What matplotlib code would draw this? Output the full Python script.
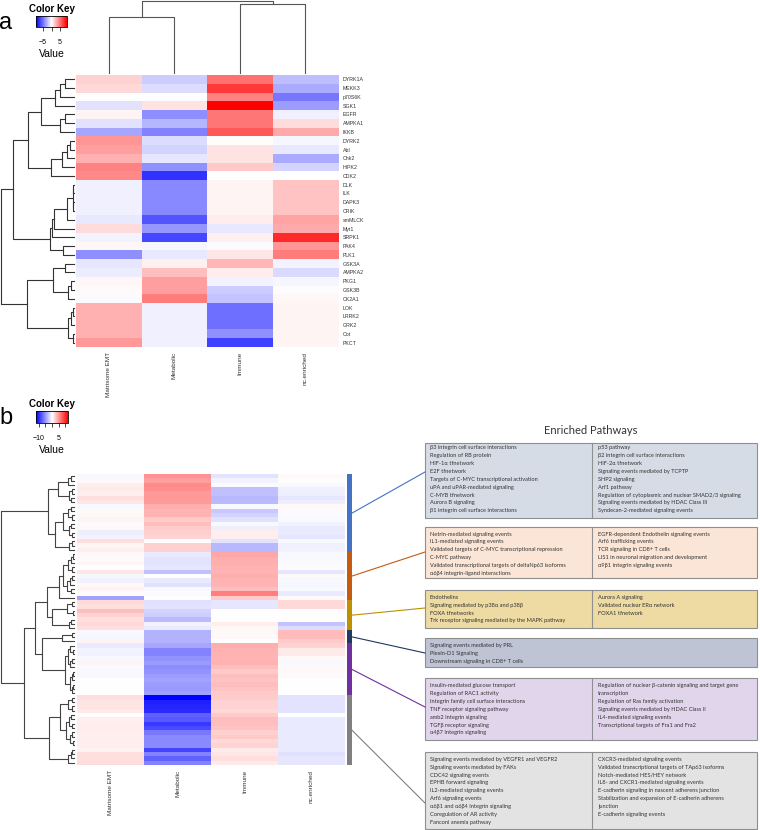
import numpy as np
import matplotlib
matplotlib.use("Agg")
import matplotlib.pyplot as plt
from matplotlib.patches import Rectangle
from matplotlib.colors import ListedColormap, Normalize
from matplotlib.cm import ScalarMappable

plt.rcParams['font.family'] = ['Liberation Sans', 'DejaVu Sans']

# === Panel a: kinases x subtype ===
columns = ["Matrisome EMT", "Metabolic", "Immune", "nc.enriched"]
kinases = ["DYRK1A", "MEKK3", "p70S6K", "SGK1", "EGFR", "AMPKA1", "IKKB",
           "DYRK2", "Abl", "Chk2", "HIPK2", "CDK2", "DLK", "ILK", "DAPK3",
           "CRIK", "smMLCK", "Myt1", "SRPK1", "PAK4", "PLK1", "GSK3A",
           "AMPKA2", "PKG1", "GSK3B", "CK2A1", "LOK", "LRRK2", "GRK2", "Cot", "PKCT"]
matrisome_a = [1.6, 1.4, 0, -1, 0.4, -1, -3.1, 3.7, 3.4, 2.8, 4.4, 4.2, -0.5, -0.5, -0.5,
               -0.5, -0.8, 1.2, -0.4, 0.3, -4, -0.9, -0.7, 0.3, 0.2, -0.2, 2.8, 2.8, 2.8, 2.8, 3.6]
metabolic_a = [-1.8, -1.2, 0, 1, -4, -2.6, -4.4, -1.2, -1.5, -0.9, -3.9, -7.2, -4.2, -4.2, -4.2,
               -4.2, -6, -3.7, -6.5, -0.3, -0.8, 0.5, 2.3, 3.4, 3.4, 4.6, -0.5, -0.5, -0.5, -0.5, -0.5]
immune_a = [5, 7, 4.4, 9, 4.8, 4.8, 5.9, 0.1, 1, 1, 1.9, 0, 0.4, 0.4, 0.4,
            0.4, 0.7, -0.8, 0.5, -0.2, 0.9, 2.6, 0.7, -0.4, -1.8, -2.1, -5.1, -5.1, -5.1, -3.9, -6.7]
nc_a = [-2.3, -3, -4.8, -3.5, -0.5, 1.2, 3, -0.3, -0.8, -3, -1.5, 0, 2.1, 2.1, 2.1,
        2.1, 3.2, 3, 7.5, 3.7, 4.6, -0.4, -1.3, -0.3, -0.1, 0.3, 0.4, 0.4, 0.4, 0.4, 0.4]

# dendrogramas: (izq, der, altura en px)
a_top = (((((0, 1, 9), 2, 14), 3, 19), ((4, 5, 9), 6, 14), 33),
         ((((7, 8, 4), 9, 7), 10, 12), 11, 23), 46)
a_mid = ((((((12, 13, 1), (14, 15, 1), 1.5), 16, 7), 17, 20), 18, 22), (19, 20, 11), 24)
a_low = (((21, 22, 9), ((23, 24, 3), 25, 6), 21),
         (((26, 27, 1), 28, 3), (29, 30, 1.5), 6), 47)
tree_a_rows = ((a_top, a_mid, 61), a_low, 73)
tree_a_cols = ((0, 1, 56), (2, 3, 69), 72)

# === Panel b: pathways x subtype ===
matrisome_b = [-0.3, 0.3, 0.8, 1, 0.8, 1.5, 1.2, -0.3, 0.2, 0.3, 0.5, -0.2, 0.4, -0.8, -0.5, 1.5, 0.5, 0.8,
               0.3, 0.2, 0.4, 0, 1.2, -0.4, -0.6, 0.4, 0.6, 0.2, -4.5,
               1.8, 1.5, 3, 2, 1.5, 1.8, 1.5,
               -0.3, -0.4, 0.5,
               -1, -0.5, -0.6, -0.3, 0.5, -0.2, -0.3, -0.3, 0, 0, 0, 0,
               1.5, 1.3, 1.3, 1, 0, 0.8, 0.9, 0.9, 0.8, 0.8, 0.9, 0.8, 0.6, 1.5, 1.5, 1.6]
metabolic_b = [5, 4.5, 5.5, 5.3, 4.8, 4.8, 4.7, 3.8, 3.5, 3.5, 2.5, 3, 2.5, 2.3, 2, 0, 2.2, 2.2,
               -1, -1.3, -1.3, -1.2, -3, 0, -1, -1.5, -0.3, -0.2, 0,
               -1.5, -1.3, -2, -2.3, -3.2, -0.5, -1,
               -3.6, -3.6, -3.6,
               -4.2, -5.8, -5.8, -5, -4.7, -5.4, -5, -4.6, -4.4, -4.6, -4.8, -4.5,
               -12, -10.5, -10.3, -10, -7.5, -7.8, -9.3, -8.5, -6.3, -5.5, -5.5, -5.5, -8.8, -5.8, -7.5, -5.8]
immune_b = [-1.3, -0.5, -0.2, -3, -3, -3.3, -3.2, -0.3, -2.6, -2, -1.5, -0.3, -0.8, 0.8, 0.8, -1.3, -3.3, -3.3,
            4.2, 3.8, 3.8, 3.6, 3.5, 3.8, 3.5, 3.5, 3, 6, 2.5,
            -1.2, -1.2, 0, 0, 0, 0.8, 0.4,
            0.3, 0.3, 0,
            3.8, 3.6, 3.6, 3.5, 3.6, 3, 2.5, 3, 2.8, 3, 2.8, 2.5,
            2.5, 2, 2, 1.8, 2.5, 3, 3, 2.8, 2.2, 2.5, 1.8, 2, 1, 1.2, 1.5, 1]
nc_b = [0.3, 0.1, -0.3, -0.7, -0.8, -1.2, -0.8, 0.3, -0.2, -0.2, -0.3, -0.6, -1, -1, -1.2, -0.3, -0.7, -0.6,
        -0.3, -0.3, -0.2, 0.2, -1.2, 0.3, -0.3, -0.4, -0.3, -1, 0.2,
        1.8, 1.8, 0, 0, 0, -2.8, -1.6,
        3.2, 3.2, 2.5,
        2, 1, 1, 0.3, -0.3, 0.3, 0.3, 0.2, 0, 0, 0, 0,
        -1.3, -1.3, -1.3, -1.3, 0, -1, -1, -1, -1, -1, -1, -1, -1, -1.5, -1.2, -1.2]

section_sizes = [18, 11, 7, 3, 12, 16]
section_colors = ["#4472c4", "#c55a11", "#bf9000", "#1f3864", "#7030a0", "#808080"]
box_colors = ["#d6dce5", "#fbe5d6", "#eddba3", "#bec4d4", "#e1d5ec", "#e3e3e3"]

blue = ((((0, 1, 3), 2, 6), ((3, 4, 2), (5, 6, 3), 5), 16),
        ((((7, 8, 3), (9, 10, 2), 6), ((11, 12, 3), (13, 14, 2), 5), 11), ((15, 16, 2), 17, 5), 19), 26)
orange = (((((18, 19, 1), 20, 3), (21, 22, 2), 6), (((23, 24, 2), 25, 4), (26, 27, 3), 7), 11), 28, 15)
gold = (((29, 30, 2), (31, 32, 1), 7), ((33, 34, 3), 35, 5), 22)
navy = ((36, 37, 2), 38, 12)
purple = (((39, (40, 41, 1), 4), ((42, 43, 2), 44, 4), 6),
          (((45, 46, 1), 47, 2), ((48, 49, 1), 50, 2), 4), 9)
gray = ((((51, 52, 2), (53, 54, 2), 6),
         (((55, 56, 3), (57, 58, 2), 5), ((59, 60, 2), (61, 62, 1), 4), 8), 14),
        (((63, 64, 2), 65, 3), 66, 6), 25)
tree_b_rows = (blue, ((((orange, gold, 27), (navy, purple, 32), 39)), gray, 50), 73)

left_items = [
    ["β3 integrin cell surface interactions", "Regulation of RB protein", "HIF-1α tfnetwork",
     "E2F tfnetwork", "Targets of C-MYC transcriptional activation", "uPA and uPAR-mediated signaling",
     "C-MYB tfnetwork", "Aurora B signaling", "β1 integrin cell surface interactions"],
    ["Netrin-mediated signaling events", "IL1-mediated signaling events",
     "Validated targets of C-MYC transcriptional repression", "C-MYC pathway",
     "Validated transcriptional targets of deltaNp63 isoforms", "α6β4 integrin-ligand interactions"],
    ["Endothelins", "Signaling mediated by p38α and p38β", "FOXA tfnetworks",
     "Trk receptor signaling mediated by the MAPK pathway"],
    ["Signaling events mediated by PRL", "Plexin-D1 Signaling", "Downstream signaling in CD8+ T cells"],
    ["Insulin-mediated glucose transport", "Regulation of RAC1 activity",
     "Integrin family cell surface interactions", "TNF receptor signaling pathway",
     "amb2 Integrin signaling", "TGFβ receptor signaling", "α4β7 Integrin signaling"],
    ["Signaling events mediated by VEGFR1 and VEGFR2", "Signaling events mediated by FAKs",
     "CDC42 signaling events", "EPHB forward signaling", "IL2-mediated signaling events",
     "Arf6 signaling events", "α6β1 and α6β4 Integrin signaling", "Coregulation of AR activity",
     "Fanconi anemia pathway"],
]
right_items = [
    ["p53 pathway", "β2 integrin cell surface interactions", "HIF-2α tfnetwork",
     "Signaling events mediated by TCPTP", "SHP2 signaling", "Arf1 pathway",
     "Regulation of cytoplasmic and nuclear SMAD2/3 signaling",
     "Signaling events mediated by HDAC Class III", "Syndecan-2-mediated signaling events"],
    ["EGFR-dependent Endothelin signaling events", "Arf6 trafficking events",
     "TCR signaling in CD8+ T cells", "LIS1 in neuronal migration and development",
     "α9β1 integrin signaling events"],
    ["Aurora A signaling", "Validated nuclear ERα network", "FOXA1 tfnetwork"],
    [],
    ["Regulation of nuclear β-catenin signaling and target gene", "transcription",
     "Regulation of Ras family activation", "Signaling events mediated by HDAC Class II",
     "IL4-mediated signaling events", "Transcriptional targets of Fra1 and Fra2"],
    ["CXCR3-mediated signaling events", "Validated transcriptional targets of TAp63 isoforms",
     "Notch-mediated HES/HEY network", "IL8- and CXCR1-mediated signaling events",
     "E-cadherin signaling in nascent adherens junction",
     "Stabilization and expansion of E-cadherin adherens", "junction", "E-cadherin signaling events"],
]

# === Layout (px) ===
W, H = 760, 830
fig = plt.figure(figsize=(7.6, 8.3), dpi=100)


def px_axes(x0, y0, x1, y1):
    return fig.add_axes([x0 / W, 1 - y1 / H, (x1 - x0) / W, (y1 - y0) / H])


def draw_dendro(ax, node, side, color, lw=0.8):
    """Dibuja el árbol recursivamente; devuelve (posición, altura)."""
    if not isinstance(node, tuple):
        return float(node), 0.0
    left, right, h = node
    p1, h1 = draw_dendro(ax, left, side, color, lw)
    p2, h2 = draw_dendro(ax, right, side, color, lw)
    if side == "left":
        ax.plot([h1, h, h, h2], [p1, p1, p2, p2], color=color, lw=lw, clip_on=False)
    else:
        ax.plot([p1, p1, p2, p2], [h1, h, h, h2], color=color, lw=lw, clip_on=False)
    return (p1 + p2) / 2, h


def color_key(x0, y0, x1, y1, vmax, ticks, labels):
    cax = px_axes(x0, y0, x1, y1)
    sm = ScalarMappable(norm=Normalize(-vmax, vmax), cmap="bwr")
    cb = fig.colorbar(sm, cax=cax, orientation="horizontal")
    cb.set_ticks(ticks)
    cb.set_ticklabels(labels)
    cb.outline.set_linewidth(0.6)
    cax.tick_params(labelsize=5, length=3, width=0.5, pad=5.5)
    cax.set_title("Color Key", fontsize=7, fontweight="bold", pad=3)
    cax.set_xlabel("Value", fontsize=7.5, labelpad=2)


overlay = fig.add_axes([0, 0, 1, 1])
overlay.set_xlim(0, W)
overlay.set_ylim(H, 0)
overlay.axis("off")

fig.text(6 / W, 1 - 23 / H, "a", fontsize=17, ha="center", va="center")
fig.text(6 / W, 1 - 418 / H, "b", fontsize=17, ha="center", va="center")

# --- panel a ---
color_key(36, 16, 67, 27, 9, [-5, 0, 5], ["−5", "", "5"])
data_a = np.array([matrisome_a, metabolic_a, immune_a, nc_a]).T
ax_a = px_axes(76, 75, 338, 347)
ax_a.imshow(data_a, cmap="bwr", vmin=-9, vmax=9, aspect="auto", interpolation="nearest")
ax_a.set_xticks(range(len(columns)))
ax_a.set_xticklabels(columns, rotation=90, fontsize=4.6, color="#333333", va="top")
ax_a.yaxis.tick_right()
ax_a.set_yticks(range(len(kinases)))
ax_a.set_yticklabels(kinases, fontsize=3.8, color="#333333")
ax_a.tick_params(length=0, pad=3.5)
for s in ax_a.spines.values():
    s.set_visible(False)

ax_ca = px_axes(76, 0, 338, 73)
ax_ca.set_xlim(-0.5, 3.5)
ax_ca.set_ylim(0, 73)
ax_ca.axis("off")
draw_dendro(ax_ca, tree_a_cols, "top", "#555555")

ax_ra = px_axes(0, 75, 74, 347)
ax_ra.set_xlim(74, 0)
ax_ra.set_ylim(len(kinases) - 0.5, -0.5)
ax_ra.axis("off")
draw_dendro(ax_ra, tree_a_rows, "left", "#333333")

# --- panel b ---
color_key(36, 411, 68, 423, 12, [-10, -5, 0, 5, 10], ["−10", "", "", "5", ""])
data_b = np.array([matrisome_b, metabolic_b, immune_b, nc_b]).T
n_b = data_b.shape[0]
hb_top, hb_bot = 474, 765
ax_b = px_axes(77, hb_top, 345, hb_bot)
ax_b.imshow(data_b, cmap="bwr", vmin=-12, vmax=12, aspect="auto", interpolation="nearest")
ax_b.set_xticks(range(len(columns)))
ax_b.set_xticklabels(columns, rotation=90, fontsize=4.6, color="#333333", va="top")
ax_b.set_yticks([])
ax_b.tick_params(length=0, pad=3.5)
for s in ax_b.spines.values():
    s.set_visible(False)

ax_rb = px_axes(0, hb_top, 74, hb_bot)
ax_rb.set_xlim(74, 0)
ax_rb.set_ylim(n_b - 0.5, -0.5)
ax_rb.axis("off")
draw_dendro(ax_rb, tree_b_rows, "left", "#444444")

section_idx = np.repeat(np.arange(len(section_sizes)), section_sizes)
ax_side = px_axes(347, hb_top, 352, hb_bot)
ax_side.imshow(section_idx[:, None], cmap=ListedColormap(section_colors), aspect="auto",
               interpolation="nearest", vmin=-0.5, vmax=len(section_sizes) - 0.5)
ax_side.axis("off")

# --- cajas de vías enriquecidas ---
overlay.text(591, 430, "Enriched Pathways", fontsize=8, family="Lato", color="#333333",
             ha="center", va="center")
box_x0, box_x1, box_div = 425, 757, 592
box_tops = [443, 527, 590, 638, 678, 752]
box_bots = [518, 578, 628, 667, 740, 829]
line_targets = [472, 552, 608, 653, 707, 803]
first_off = [4.8, 7, 7.3, 7.3, 7.7, 7.3]
line_gap = 7.88
row_h = (hb_bot - hb_top) / n_b
starts = np.concatenate([[0], np.cumsum(section_sizes)[:-1]])

for k in range(len(section_sizes)):
    top, bot = box_tops[k], box_bots[k]
    overlay.add_patch(Rectangle((box_x0, top), box_x1 - box_x0, bot - top,
                                facecolor=box_colors[k], edgecolor="#8f8f8f", lw=0.8))
    if right_items[k]:
        overlay.plot([box_div, box_div], [top, bot], color="#8f8f8f", lw=0.8)
    for i, item in enumerate(left_items[k]):
        overlay.text(430, top + first_off[k] + i * line_gap, item, fontsize=4.1, family="Lato",
                     color="#333333", va="center", ha="left")
    for i, item in enumerate(right_items[k]):
        overlay.text(598, top + first_off[k] + i * line_gap, item, fontsize=4.1, family="Lato",
                     color="#333333", va="center", ha="left")
    y_mid = hb_top + (starts[k] + section_sizes[k] / 2) * row_h
    overlay.plot([352, box_x0], [y_mid, line_targets[k]], color=section_colors[k], lw=0.8)

fig.savefig("out.png", dpi=100)
